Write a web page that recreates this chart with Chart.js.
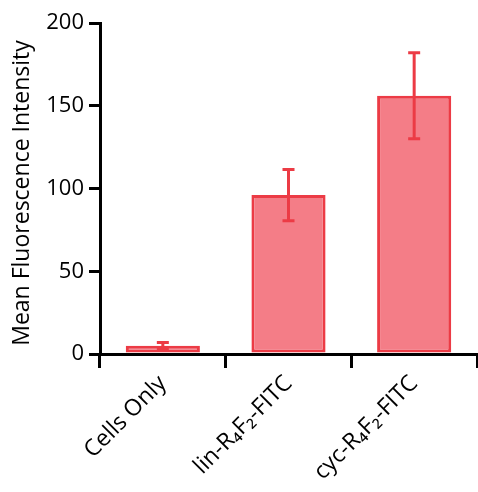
<!DOCTYPE html>
<html lang="en">
<head>
    <meta charset="UTF-8">
    <title>Mean Fluorescence Intensity</title>
    <script src="https://cdn.jsdelivr.net/npm/chart.js"></script>
    <style>
        html, body { margin: 0; padding: 0; background: #fff; }
        .chart-wrapper { width: 478px; height: 492px; }
    </style>
</head>
<body>
    <div class="chart-wrapper">
        <canvas id="mfiChart"></canvas>
    </div>

<script>
    const categorias = ['Cells Only', 'lin-R\u2084F\u2082-FITC', 'cyc-R\u2084F\u2082-FITC'];
    const medias = [5, 96, 156];
    const erros = [2, 15.5, 26];
    const ticksY = [0, 50, 100, 150, 200];

    const vermelho = '#EC3B45';
    const rosa = '#F47D87';
    const fonte = '"Open Sans", "Noto Sans", sans-serif';

    const errorBars = {
        id: 'errorBars',
        afterDatasetsDraw(chart) {
            const ctx = chart.ctx;
            const y = chart.scales.y;
            chart.getDatasetMeta(0).data.forEach((bar, i) => {
                const x = bar.x;
                const top = y.getPixelForValue(medias[i] + erros[i]);
                const bottom = y.getPixelForValue(medias[i] - erros[i]);
                ctx.save();
                ctx.strokeStyle = vermelho;
                ctx.lineWidth = 3;
                ctx.beginPath();
                ctx.moveTo(x, top);
                ctx.lineTo(x, bottom);
                ctx.moveTo(x - 6, top);
                ctx.lineTo(x + 6, top);
                ctx.moveTo(x - 6, bottom);
                ctx.lineTo(x + 6, bottom);
                ctx.stroke();
                ctx.restore();
            });
        }
    };

    // titulo do eixo y desenhado a mao (fica um pouco abaixo do centro no original)
    const tituloY = {
        id: 'tituloY',
        afterDraw(chart) {
            const ctx = chart.ctx;
            ctx.save();
            ctx.translate(29, 193);
            ctx.rotate(-Math.PI / 2);
            ctx.font = `23px ${fonte}`;
            ctx.fillStyle = '#000';
            ctx.textAlign = 'center';
            ctx.textBaseline = 'alphabetic';
            ctx.fillText('Mean Fluorescence Intensity', 0, 0);
            ctx.restore();
        }
    };

    new Chart(document.getElementById('mfiChart'), {
        type: 'bar',
        data: {
            labels: categorias,
            datasets: [{
                data: medias,
                backgroundColor: rosa,
                borderColor: vermelho,
                borderWidth: 3,
                borderSkipped: false,
                categoryPercentage: 1,
                barPercentage: 0.59
            }]
        },
        options: {
            responsive: true,
            maintainAspectRatio: false,
            animation: false,
            layout: { padding: { top: 23, right: 1, left: 0, bottom: 0 } },
            plugins: {
                legend: { display: false },
                tooltip: { enabled: false }
            },
            scales: {
                y: {
                    min: 0,
                    max: 200,
                    afterBuildTicks: s => { s.ticks = ticksY.map(v => ({ value: v })); },
                    afterFit: s => { s.width = 100; },
                    border: { color: '#000', width: 3 },
                    grid: { drawOnChartArea: false, drawTicks: true, tickLength: 11, tickColor: '#000', lineWidth: 3 },
                    ticks: { color: '#000', font: { family: fonte, size: 22 }, padding: 5 }
                },
                x: {
                    afterFit: s => { s.height = 138; },
                    border: { color: '#000', width: 3 },
                    grid: { drawOnChartArea: false, drawTicks: true, tickLength: 14, tickColor: '#000', lineWidth: 3, offset: true },
                    ticks: { color: '#000', font: { family: fonte, size: 23 }, minRotation: 45, maxRotation: 45, padding: 2 }
                }
            }
        },
        plugins: [errorBars, tituloY]
    });
</script>
</body>
</html>
